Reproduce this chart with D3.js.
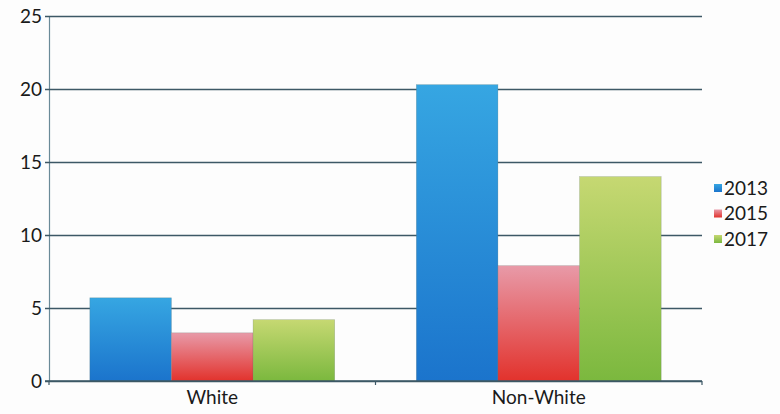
<!DOCTYPE html>
<html>
<head>
<meta charset="utf-8">
<script src="https://cdn.jsdelivr.net/npm/d3@7"></script>
<style>
  html, body { margin: 0; padding: 0; background: #fdfdfd; }
  svg { display: block; font-family: Lato, "Open Sans", sans-serif; }
</style>
</head>
<body>
<svg id="chart" width="780" height="414"></svg>
<script>
// Values per group and survey year
const categories = ["White", "Non-White"];
const years = ["2013", "2015", "2017"];
const values2013 = [5.7, 20.3];
const values2015 = [3.3, 7.9];
const values2017 = [4.2, 14.0];
const yTicks = [0, 5, 10, 15, 20, 25];

const seriesValues = [values2013, values2015, values2017];
const rows = categories.map((c, i) => ({
  category: c,
  bars: years.map((y, j) => ({ year: y, value: seriesValues[j][i] }))
}));

const svg = d3.select("#chart");
const margin = { left: 49, right: 78, top: 16, bottom: 33 };
const W = 780, H = 414;

const x0 = d3.scaleBand()
  .domain(categories)
  .range([margin.left, W - margin.right])
  .paddingInner(0.25)
  .paddingOuter(0.125);

const x1 = d3.scaleBand()
  .domain(years)
  .range([0, x0.bandwidth()]);

const y = d3.scaleLinear()
  .domain([0, 25])
  .range([H - margin.bottom, margin.top]);

// Vertical gradients for each series
const grads = {
  "2013": ["#36a6e2", "#1b74cc"],
  "2015": ["#e89aa8", "#e2322c"],
  "2017": ["#c6d872", "#7bb83e"]
};
const defs = svg.append("defs");
Object.entries(grads).forEach(([k, [top, bottom]]) => {
  const g = defs.append("linearGradient")
    .attr("id", "g" + k)
    .attr("x1", 0).attr("y1", 0).attr("x2", 0).attr("y2", 1);
  g.append("stop").attr("offset", "0%").attr("stop-color", top);
  g.append("stop").attr("offset", "100%").attr("stop-color", bottom);
});

const gridColor = "#3d5866";

// Horizontal gridlines with small ticks to the left of the axis
const yAxis = d3.axisLeft(y)
  .tickValues(yTicks)
  .tickSize(-(W - margin.right - margin.left))
  .tickPadding(7)
  .tickFormat(d3.format("d"));

const gy = svg.append("g")
  .attr("transform", `translate(${margin.left},0)`)
  .call(yAxis);
gy.attr("font-size", null).attr("font-family", null);
gy.select(".domain").attr("stroke", "#6a8a98").attr("stroke-width", 1.2);
gy.selectAll(".tick line")
  .attr("x1", -4)
  .attr("stroke", gridColor)
  .attr("stroke-width", 1.4);
gy.selectAll(".tick text")
  .style("font-size", "19px")
  .attr("fill", "#1a1a1a");

// Bars
const groups = svg.append("g").selectAll("g")
  .data(rows)
  .join("g")
  .attr("transform", d => `translate(${x0(d.category)},0)`);

groups.selectAll("rect")
  .data(d => d.bars)
  .join("rect")
  .attr("x", d => x1(d.year))
  .attr("y", d => y(d.value))
  .attr("width", x1.bandwidth())
  .attr("height", d => y(0) - y(d.value))
  .attr("fill", d => `url(#g${d.year})`)
  .attr("stroke", "rgba(90,110,100,0.35)")
  .attr("stroke-width", 0.6);

// Category axis along zero line
const xAxis = d3.axisBottom(x0).tickSize(0).tickPadding(10);
const gx = svg.append("g")
  .attr("transform", `translate(0,${y(0)})`)
  .call(xAxis);
gx.attr("font-size", null).attr("font-family", null);
gx.select(".domain").remove();
gx.selectAll(".tick text")
  .style("font-size", "19px")
  .attr("fill", "#1a1a1a");

// Zero baseline with boundary tick marks
const base = svg.append("g");
base.append("line")
  .attr("x1", margin.left - 4).attr("x2", W - margin.right)
  .attr("y1", y(0)).attr("y2", y(0))
  .attr("stroke", gridColor).attr("stroke-width", 1.6);
const step = x0.step();
const bounds = [margin.left, margin.left + step, W - margin.right];
base.selectAll("line.b")
  .data(bounds)
  .join("line")
  .attr("class", "b")
  .attr("x1", d => d).attr("x2", d => d)
  .attr("y1", y(0)).attr("y2", y(0) + 4)
  .attr("stroke", gridColor).attr("stroke-width", 1.2);

// Legend
const legend = svg.append("g")
  .attr("transform", "translate(714,188)");
const li = legend.selectAll("g")
  .data(years)
  .join("g")
  .attr("transform", (d, i) => `translate(0,${i * 25.5})`);
li.append("rect")
  .attr("x", 0).attr("y", -4)
  .attr("width", 8).attr("height", 8)
  .attr("fill", d => `url(#g${d})`);
li.append("text")
  .attr("x", 10).attr("y", 0)
  .attr("dy", "0.35em")
  .style("font-size", "19px")
  .attr("fill", "#1a1a1a")
  .text(d => d);
</script>
</body>
</html>
